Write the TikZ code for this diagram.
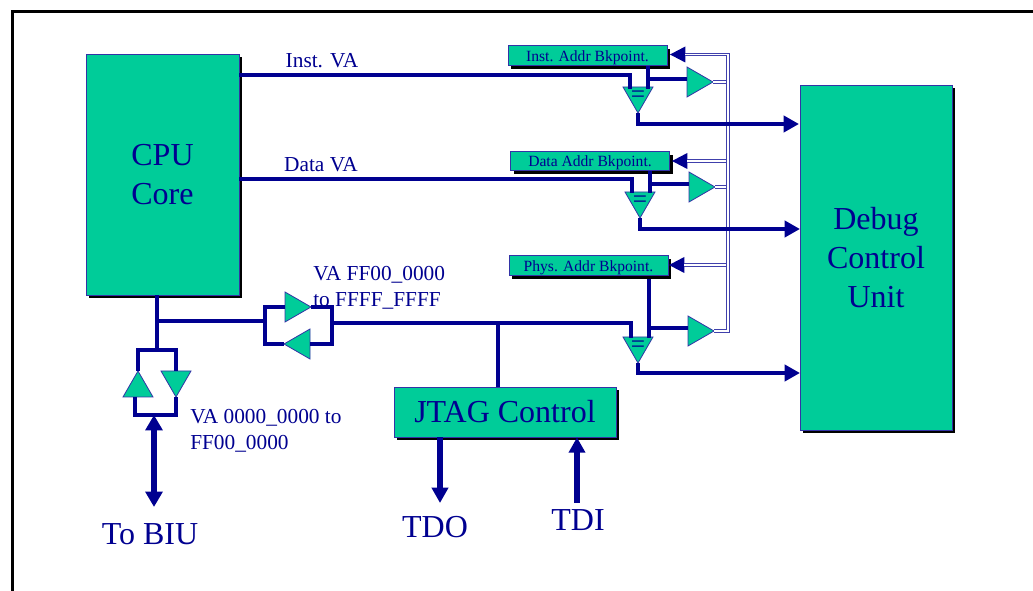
\documentclass[tikz,border=0pt]{standalone}
\usepackage{fontspec}
\setmainfont{Liberation Serif}
\usepackage{xcolor}
\usepackage{tikz}
\usetikzlibrary{arrows.meta, shadows, shapes.geometric}
\definecolor{busblue}{HTML}{000090}
\definecolor{boxgreen}{HTML}{00CC99}
\tikzset{
  block/.style = {draw=busblue!80!white, line width=.6pt, fill=boxgreen, text=busblue, inner sep=0pt,
    drop shadow={shadow xshift=2.6pt, shadow yshift=-2.6pt, fill=black, opacity=1}},
  bigblock/.style = {block, font=\fontsize{24}{29}\selectfont, align=center},
  textdrop/.style = {execute at begin node=\vspace*{4pt}},
  bkblock/.style = {block, font=\fontsize{11.7}{14}\selectfont, minimum width=119.25pt, minimum height=14.6pt,
    text height=9pt, text depth=0pt},
  gate/.style = {isosceles triangle, isosceles triangle stretches, draw=busblue!80!white, line width=.6pt,
    fill=boxgreen, inner sep=0pt, outer sep=0pt, anchor=apex, minimum width=22.5pt, minimum height=19.5pt},
  bufright/.style = {gate},
  bufleft/.style = {gate, shape border rotate=180},
  bufdown/.style = {gate, shape border rotate=-90},
  bufup/.style = {gate, shape border rotate=90},
  tiphead/.style = {isosceles triangle, isosceles triangle stretches, fill=busblue, inner sep=0pt, outer sep=0pt,
    anchor=apex, shape border rotate=180, minimum width=12pt, minimum height=11.5pt},
  eqmark/.style = {text=busblue, inner sep=0pt, font=\fontsize{19}{19}\selectfont},
  wire/.style = {draw=busblue, line width=3pt},
  thickwire/.style = {draw=busblue, line width=3.8pt},
  tapbus/.style = {draw=busblue!75!white, line width=2.8pt, postaction={draw=white, line width=1pt}},
  head/.style = {-{Triangle[length=11.5pt, width=12pt]}},
  lbl/.style = {text=busblue, inner sep=0pt, font=\fontsize{16}{19.5}\selectfont, align=left},
  biglbl/.style = {text=busblue, inner sep=0pt, font=\fontsize{24}{29}\selectfont}
}
\begin{document}
\begin{tikzpicture}[x=.75pt, y=-.75pt]
  \useasboundingbox (0,0) rectangle (1033,591);
  \coordinate (frameA) at (12.5,591);
  \coordinate (frameB) at (12.5,11.5);
  \coordinate (frameC) at (1033,11.5);
  \draw[black, line width=2.2pt] (frameA) -- (frameB) -- (frameC);

  \node[bigblock, textdrop, minimum width=114.75pt, minimum height=180.75pt] (cpu) at (162.5,174.5) {CPU\\Core};
  \node[bigblock, textdrop, minimum width=114pt, minimum height=258.75pt] (dbg) at (876,257.5) {Debug\\Control\\Unit};
  \node[bigblock, minimum width=166.5pt, minimum height=37.5pt] (jtag) at (505,412) {JTAG Control};
  \node[bkblock] (instBk) at (587.5,55.5) {Inst. Addr Bkpoint.};
  \node[bkblock] (dataBk) at (590,161) {Data Addr Bkpoint.};
  \node[bkblock] (physBk) at (588.5,265.5) {Phys. Addr Bkpoint.};

  \node[lbl] (instLbl) at (322,61) {Inst. VA};
  \node[lbl] (dataLbl) at (321,165) {Data VA};
  \node[lbl, anchor=west] (hiLbl) at (313,288) {VA FF00\_0000\\to FFFF\_FFFF};
  \node[lbl, anchor=west] (loLbl) at (190,431) {VA 0000\_0000 to\\FF00\_0000};
  \node[biglbl] (biu) at (150,534) {To BIU};
  \node[biglbl] (tdo) at (435,527) {TDO};
  \node[biglbl] (tdi) at (578,520) {TDI};

  \node[bufdown] (instCmp) at (638,113) {};
  \node[bufdown] (dataCmp) at (640,218) {};
  \node[bufdown] (physCmp) at (638,363) {};
  \node[eqmark] (instEq) at (638,97) {=};
  \node[eqmark] (dataEq) at (640,202) {=};
  \node[eqmark] (physEq) at (638,347) {=};
  \node[bufright] (instBuf) at (713,82) {};
  \node[bufright] (dataBuf) at (715,187) {};
  \node[bufright] (physBuf) at (714,331) {};
  \node[bufright] (hiBuf) at (311,307) {};
  \node[bufleft] (loBuf) at (284,344) {};
  \node[bufup] (upBuf) at (138,371) {};
  \node[bufdown] (dnBuf) at (176,397) {};
  \node[tiphead] (instTip) at (670,54.5) {};
  \node[tiphead] (dataTip) at (672,161) {};
  \node[tiphead] (physTip) at (669,265) {};

  \coordinate (busTop) at (728,54.5);
  \coordinate (busBot) at (728,331);
  \draw[tapbus] (instBuf.apex) -- (instBuf.apex -| busTop);
  \draw[tapbus] (dataBuf.apex) -- (dataBuf.apex -| busTop);
  \draw[tapbus] (dataTip.lower side) -- (dataTip.lower side -| busTop);
  \draw[tapbus] (physTip.lower side) -- (physTip.lower side -| busTop);
  \draw[tapbus] (instTip.lower side) -- (busTop) -- (busBot) -- (physBuf.apex);

  \coordinate (instOut) at (239,75);
  \coordinate (instIn) at (630,89);
  \coordinate (instRef) at (648,89);
  \coordinate (instTap) at (648,79);
  \coordinate (instDbg) at (799,124);
  \draw[wire] (instOut) -| (instIn);
  \draw[wire] (instBk.south -| instRef) -- (instRef);
  \draw[wire] (instTap) -- (instTap -| instBuf.lower side);
  \draw[wire, head] (instCmp.apex) |- (instDbg);

  \coordinate (dataOut) at (239,179);
  \coordinate (dataIn) at (632,193);
  \coordinate (dataRef) at (650,193);
  \coordinate (dataTap) at (650,184);
  \coordinate (dataDbg) at (800,229);
  \draw[wire] (dataOut) -| (dataIn);
  \draw[wire] (dataBk.south -| dataRef) -- (dataRef);
  \draw[wire] (dataTap) -- (dataTap -| dataBuf.lower side);
  \draw[wire, head] (dataCmp.apex) |- (dataDbg);

  \coordinate (hiE) at (332,323);
  \coordinate (hiW) at (265,321);
  \coordinate (physIn) at (631,338);
  \coordinate (physRef) at (649,338);
  \coordinate (physTop) at (649,279);
  \coordinate (physTap) at (649,328);
  \coordinate (physDbg) at (800,373);
  \coordinate (jtagTap) at (498,323);
  \draw[wire] (hiE) -| (physIn);
  \draw[wire] (physTop) -- (physRef);
  \draw[wire] (physTap) -- (physTap -| physBuf.lower side);
  \draw[wire, head] (physCmp.apex) |- (physDbg);
  \draw[wire] (jtagTap) -- (jtag.north -| jtagTap);

  \coordinate (cpuBot) at (157,295);
  \coordinate (cpuBus) at (157,321);
  \coordinate (dropTop) at (157,350);
  \coordinate (upLead) at (135,397);
  \coordinate (biuTop) at (154,415);
  \coordinate (biuEnd) at (154,507);
  \draw[wire] (cpuBot) -- (dropTop);
  \draw[wire] (cpuBus) -- (hiW);
  \draw[wire] (hiBuf.lower side) -| (hiW) |- (loBuf.apex);
  \draw[wire] (hiBuf.apex) -| (hiE) |- (loBuf.lower side);
  \draw[wire] (upBuf.apex) |- (dropTop) -| (dnBuf.lower side);
  \draw[wire] (upLead) |- (biuTop) -| (dnBuf.apex);
  \draw[thickwire, {Triangle[length=11.5pt, width=12.5pt]}-{Triangle[length=11.5pt, width=12.5pt]}] (biuTop) -- (biuEnd);

  \coordinate (tdoEnd) at (440,503);
  \coordinate (tdiEnd) at (577,503);
  \draw[thickwire, head] (jtag.south -| tdoEnd) -- (tdoEnd);
  \draw[thickwire, head] (tdiEnd) -- (jtag.south -| tdiEnd);
\end{tikzpicture}
\end{document}
